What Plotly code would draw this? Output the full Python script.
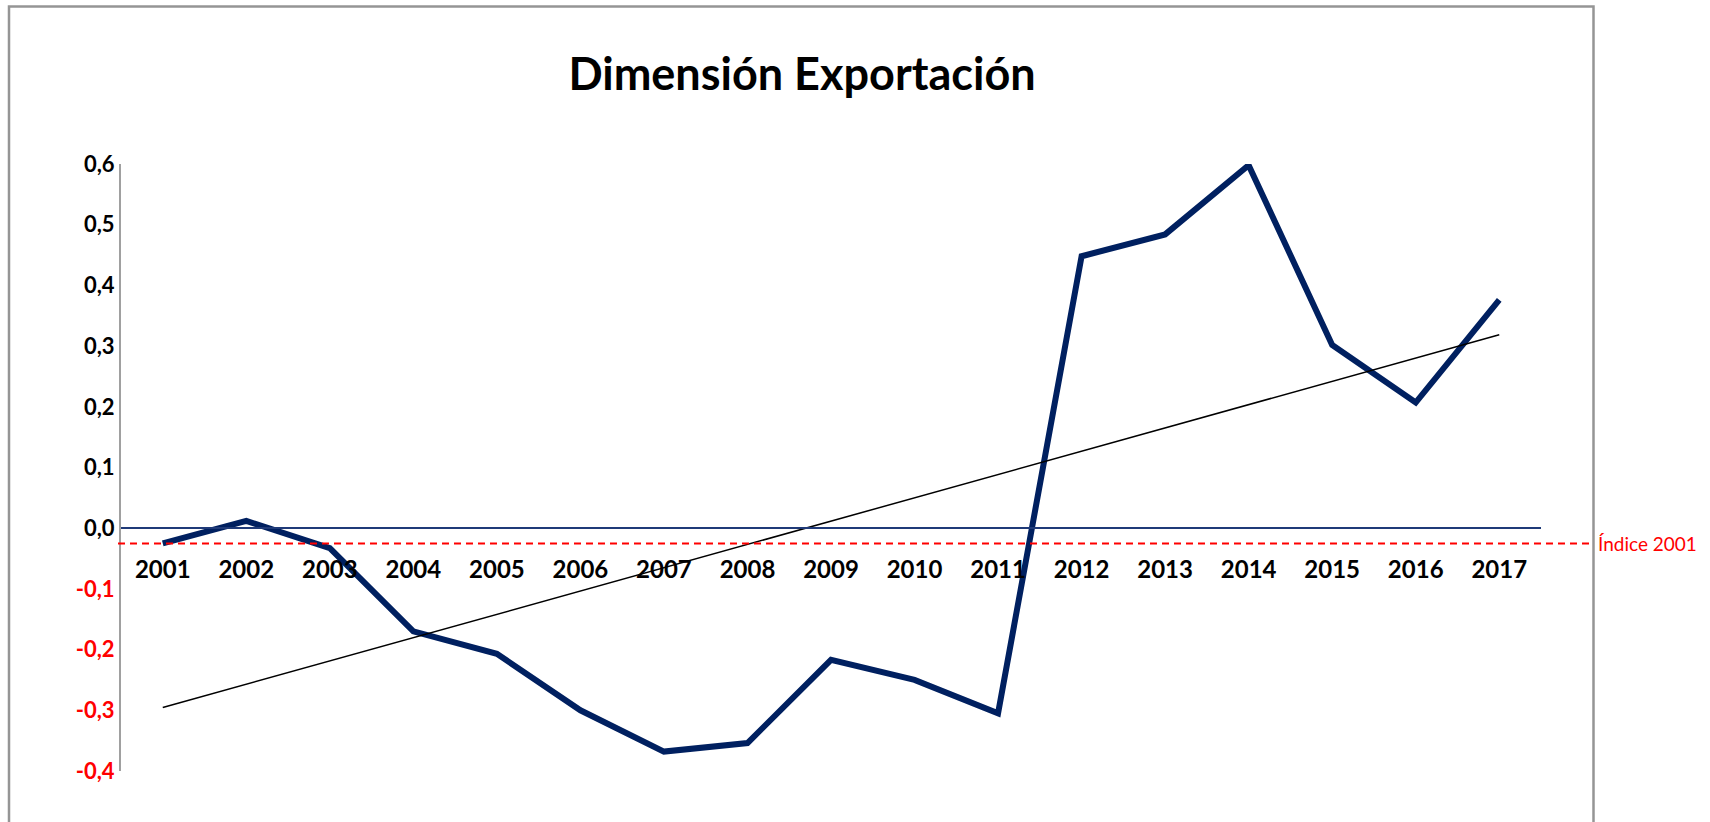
import numpy as np
import plotly.graph_objects as go

years = [2001, 2002, 2003, 2004, 2005, 2006, 2007, 2008, 2009,
         2010, 2011, 2012, 2013, 2014, 2015, 2016, 2017]
values = [-0.025, 0.012, -0.033, -0.170, -0.207, -0.300, -0.368, -0.354, -0.217,
          -0.250, -0.305, 0.448, 0.484, 0.598, 0.302, 0.207, 0.376]
y_tickvals = [-0.4, -0.3, -0.2, -0.1, 0.0, 0.1, 0.2, 0.3, 0.4, 0.5, 0.6]
y_ticklabels = ["-0,4", "-0,3", "-0,2", "-0,1", "0,0", "0,1", "0,2", "0,3", "0,4", "0,5", "0,6"]
title_text = "Dimensión Exportación"
index_label = "Índice 2001"

# linear trend (as the spreadsheet trendline)
slope, intercept = np.polyfit(np.array(years, dtype=float), np.array(values), 1)
trend = [slope * y + intercept for y in years]

W, H = 1710, 822
ML, MR, MT, MB = 121, 169, 164, 51
PW, PH = W - ML - MR, H - MT - MB


def px_x(p):
    return (p - ML) / PW


def px_y(p):
    return (H - MB - p) / PH


FONT = "Lato"

ticktext = []
for v, t in zip(y_tickvals, y_ticklabels):
    if v < 0:
        ticktext.append(f'<span style="color:#FF0000">{t}</span>')
    else:
        ticktext.append(t)

fig = go.Figure()
fig.add_trace(go.Scatter(x=years, y=values, mode="lines",
                         line=dict(color="#002060", width=6),
                         showlegend=False, hoverinfo="x+y"))
fig.add_trace(go.Scatter(x=years, y=trend, mode="lines",
                         line=dict(color="#000000", width=1.5),
                         showlegend=False, hoverinfo="skip"))

fig.update_layout(
    width=W, height=H,
    margin=dict(l=ML, r=MR, t=MT, b=MB, pad=0),
    paper_bgcolor="white", plot_bgcolor="white",
    font=dict(family=FONT, color="black"),
    title=dict(text=f"<b>{title_text}</b>", x=802 / W, y=1 - 74 / H,
               xref="container", yref="container",
               xanchor="center", yanchor="middle",
               font=dict(family=FONT, size=45, color="black")),
    xaxis=dict(range=[2000.5, 2017.5], tickvals=years,
               ticktext=[str(y) for y in years],
               showgrid=False, zeroline=False, showline=True,
               linecolor="#1F3A78", linewidth=2, ticks="",
               anchor="free", position=0.4, ticklabelstandoff=20,
               tickfont=dict(family=FONT, size=24, color="black", weight="bold")),
    yaxis=dict(range=[-0.4, 0.6], tickvals=y_tickvals, ticktext=ticktext,
               showgrid=False, zeroline=False, showline=True,
               linecolor="#A0A0A0", linewidth=2, ticks="",
               ticklabelstandoff=0,
               tickfont=dict(family=FONT, size=22, color="black", weight="bold")),
    shapes=[
        dict(type="rect", xref="paper", yref="paper",
             x0=px_x(9), x1=px_x(1593.5), y0=px_y(860), y1=px_y(6.5),
             line=dict(color="#959595", width=2.5), fillcolor="rgba(0,0,0,0)",
             layer="below"),
        dict(type="line", xref="paper", yref="y",
             x0=px_x(118), x1=px_x(1590), y0=values[0], y1=values[0],
             line=dict(color="#FF0000", width=2, dash="7px,5px")),
    ],
    annotations=[
        dict(text=index_label, xref="paper", yref="y", x=px_x(1596), y=values[0],
             xanchor="left", yanchor="middle", showarrow=False,
             font=dict(family=FONT, size=19, color="#FF0000")),
    ],
)

fig.write_html("out.html", config={"displayModeBar": False},
               post_script="document.body.style.margin='0';document.body.style.overflow='hidden';")
